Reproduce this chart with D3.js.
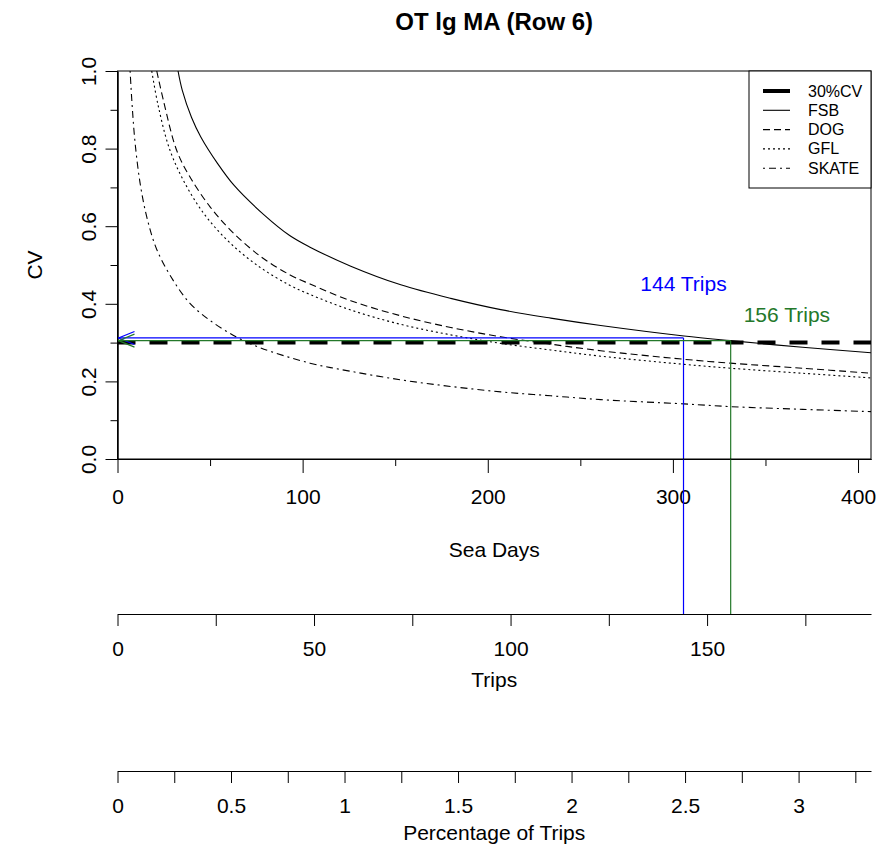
<!DOCTYPE html>
<html>
<head>
<meta charset="utf-8">
<script src="https://cdn.jsdelivr.net/npm/d3@7"></script>
<style>
	body { margin: 0; background: #fff; }
	svg { display: block; font-family: "Liberation Sans", Arial, sans-serif; }
</style>
</head>
<body>
<svg id="chart" width="881" height="850"></svg>
<script>
/*
	CV vs sea days
	==============
	CV curves per species, with the 30% target and the trips needed
*/

// curves: [sea days, CV]
const FSB = [[32.7,1.00],[35,0.95],[40,0.88],[45,0.83],[54,0.762],[63,0.705],[79,0.630],[93,0.576],[104,0.546],[126,0.497],[153,0.449],[180,0.414],[207,0.385],[234,0.363],[261,0.344],[306,0.317],[331,0.305],[370,0.288],[407,0.274]];
const DOG = [[21.2,1.00],[25,0.92],[32,0.795],[39,0.728],[50,0.650],[61,0.590],[77,0.523],[93,0.475],[104,0.451],[126,0.408],[153,0.369],[180,0.339],[207,0.315],[234,0.296],[261,0.279],[306,0.257],[331,0.247],[370,0.234],[407,0.221]];
const GFL = [[18.5,1.00],[22,0.91],[28.4,0.795],[37.4,0.702],[48,0.624],[61,0.556],[77,0.494],[93,0.448],[104,0.424],[126,0.384],[153,0.347],[180,0.32],[207,0.298],[234,0.281],[261,0.265],[306,0.244],[331,0.234],[370,0.221],[407,0.209]];
const SKATE = [[6.8,1.00],[8,0.905],[9.5,0.815],[12.2,0.711],[15.8,0.624],[21.2,0.54],[30,0.461],[39,0.402],[50,0.357],[64,0.315],[77,0.287],[104,0.247],[126,0.226],[153,0.204],[180,0.187],[207,0.173],[234,0.163],[261,0.153],[306,0.142],[331,0.135],[370,0.128],[407,0.122]];

const speciesNames = ["FSB", "DOG", "GFL", "SKATE"];
const targetCV = 0.3;

// trips needed, the CV reached there and where the label sits
const neededTrips = [144, 156];
const neededCV = [0.312, 0.305];
const labelTrips = [144, 170.3];
const labelCV = [0.452, 0.370];

const daysDomain = [0, 407];
const tripsDomain = [0, 191.7];
const pctDomain = [0, 3.319];
const cvTicks = [0, 0.2, 0.4, 0.6, 0.8, 1.0];

const svg = d3.select("#chart");
const L = 117.5, R = 871, T = 71, B = 459;
const TRIPS_Y = 614, PCT_Y = 771;
const FONT = 21;

const x = d3.scaleLinear().domain(daysDomain).range([L, R]);
const xTrips = d3.scaleLinear().domain(tripsDomain).range([L, R]);
const xPct = d3.scaleLinear().domain(pctDomain).range([L, R]);
const y = d3.scaleLinear().domain([0, 1]).range([B, T]);

const dashes = {FSB: null, DOG: "7,4", GFL: "2,3", SKATE: "2,4,7,4"};
const colors = ["#0000ff", "#24782a"];

svg.append("rect").attr("width", 881).attr("height", 850).attr("fill", "#fff");

svg.append("defs").append("clipPath").attr("id", "plotclip")
	.append("rect").attr("x", L).attr("y", T).attr("width", R - L).attr("height", B - T);

function styleAxis(g){
	g.attr("font-size", FONT).attr("font-family", null);
	g.selectAll("path, line").attr("stroke", "#000");
	g.selectAll("text").attr("fill", "#000");
}

// title
svg.append("text").attr("x", (L + R) / 2).attr("y", 30)
	.attr("text-anchor", "middle").attr("font-size", 24).attr("font-weight", "bold")
	.text("OT lg MA (Row 6)");

// y axis: minor then major
svg.append("g").attr("transform", `translate(${L},0)`)
	.call(d3.axisLeft(y).tickValues(d3.range(0.1, 1, 0.2)).tickSize(7).tickSizeOuter(0).tickFormat(""))
	.call(styleAxis);
svg.append("g").attr("transform", `translate(${L},0)`)
	.call(d3.axisLeft(y).tickValues(cvTicks).tickSize(12).tickSizeOuter(0).tickFormat(d3.format(".1f")))
	.call(styleAxis)
	.call(g => g.selectAll("text")
		.attr("x", null).attr("dy", null)
		.attr("text-anchor", "middle")
		.attr("transform", "translate(-22,0) rotate(-90)"));

svg.append("text").attr("transform", `translate(42,${(T + B) / 2}) rotate(-90)`)
	.attr("text-anchor", "middle").attr("font-size", FONT).text("CV");

// sea days axis
svg.append("g").attr("transform", `translate(0,${B})`)
	.call(d3.axisBottom(x).tickValues([50, 150, 250, 350]).tickSize(7).tickSizeOuter(0).tickFormat(""))
	.call(styleAxis);
svg.append("g").attr("transform", `translate(0,${B})`)
	.call(d3.axisBottom(x).tickValues(d3.range(0, 401, 100)).tickSize(14).tickPadding(16).tickSizeOuter(0))
	.call(styleAxis);
svg.append("text").attr("x", (L + R) / 2).attr("y", 557)
	.attr("text-anchor", "middle").attr("font-size", FONT).text("Sea Days");

// trips axis
svg.append("g").attr("transform", `translate(0,${TRIPS_Y})`)
	.call(d3.axisBottom(xTrips).tickValues(d3.range(0, 176, 25)).tickSize(12).tickPadding(15).tickSizeOuter(0)
		.tickFormat(d => d % 50 === 0 ? d : ""))
	.call(styleAxis);
svg.append("text").attr("x", (L + R) / 2).attr("y", 687)
	.attr("text-anchor", "middle").attr("font-size", FONT).text("Trips");

// percentage axis
svg.append("g").attr("transform", `translate(0,${PCT_Y})`)
	.call(d3.axisBottom(xPct).tickValues(d3.range(0, 3.26, 0.25)).tickSize(12).tickPadding(15).tickSizeOuter(0)
		.tickFormat(d => (d * 2) % 1 === 0 ? String(d) : ""))
	.call(styleAxis);
svg.append("text").attr("x", (L + R) / 2).attr("y", 840)
	.attr("text-anchor", "middle").attr("font-size", FONT).text("Percentage of Trips");

// curves
const line = d3.line().x(d => x(d[0])).y(d => y(d[1])).curve(d3.curveCatmullRom.alpha(0.5));
const plot = svg.append("g").attr("clip-path", "url(#plotclip)");
[FSB, DOG, GFL, SKATE].forEach((data, i) => {
	plot.append("path").datum(data)
		.attr("d", line)
		.attr("fill", "none")
		.attr("stroke", "#000")
		.attr("stroke-width", 1.1)
		.attr("stroke-dasharray", dashes[speciesNames[i]]);
});

// 30% CV line
plot.append("line")
	.attr("x1", x(0)).attr("x2", R)
	.attr("y1", y(targetCV)).attr("y2", y(targetCV))
	.attr("stroke", "#000").attr("stroke-width", 4).attr("stroke-dasharray", "18,14");

// trips needed: horizontal arrow to the CV axis, drop to the trips axis
neededTrips.forEach((t, i) => {
	const c = colors[i];
	const px = xTrips(t), py = y(neededCV[i]);
	const g = svg.append("g").attr("stroke", c).attr("stroke-width", 1.2).attr("fill", "none");
	g.append("line").attr("x1", x(0)).attr("x2", px).attr("y1", py).attr("y2", py);
	g.append("line").attr("x1", px).attr("x2", px).attr("y1", py).attr("y2", TRIPS_Y);
	g.append("path").attr("d", `M${x(0) + 17},${py - 6.5}L${x(0) + 1},${py}L${x(0) + 17},${py + 6.5}`);
	svg.append("text").attr("x", xTrips(labelTrips[i])).attr("y", y(labelCV[i]) + 7)
		.attr("text-anchor", "middle").attr("font-size", FONT).attr("fill", c)
		.text(t + " Trips");
});

// plot box
svg.append("rect").attr("x", L).attr("y", T).attr("width", R - L).attr("height", B - T)
	.attr("fill", "none").attr("stroke", "#000").attr("stroke-width", 1);

// legend
const legendItems = [{name: "30%CV", dash: null, width: 4}]
	.concat(speciesNames.map(n => ({name: n, dash: dashes[n], width: 1.1})));
const legend = svg.append("g");
legend.append("rect").attr("x", 749).attr("y", T).attr("width", R - 749).attr("height", 117)
	.attr("fill", "#fff").attr("stroke", "#000");
legendItems.forEach((d, i) => {
	const ly = 91 + i * 19.3;
	legend.append("line").attr("x1", 763).attr("x2", 790).attr("y1", ly).attr("y2", ly)
		.attr("stroke", "#000").attr("stroke-width", d.width)
		.attr("stroke-dasharray", d.dash);
	legend.append("text").attr("x", 808).attr("y", ly + 5.5)
		.attr("font-size", 16).text(d.name);
});
</script>
</body>
</html>
